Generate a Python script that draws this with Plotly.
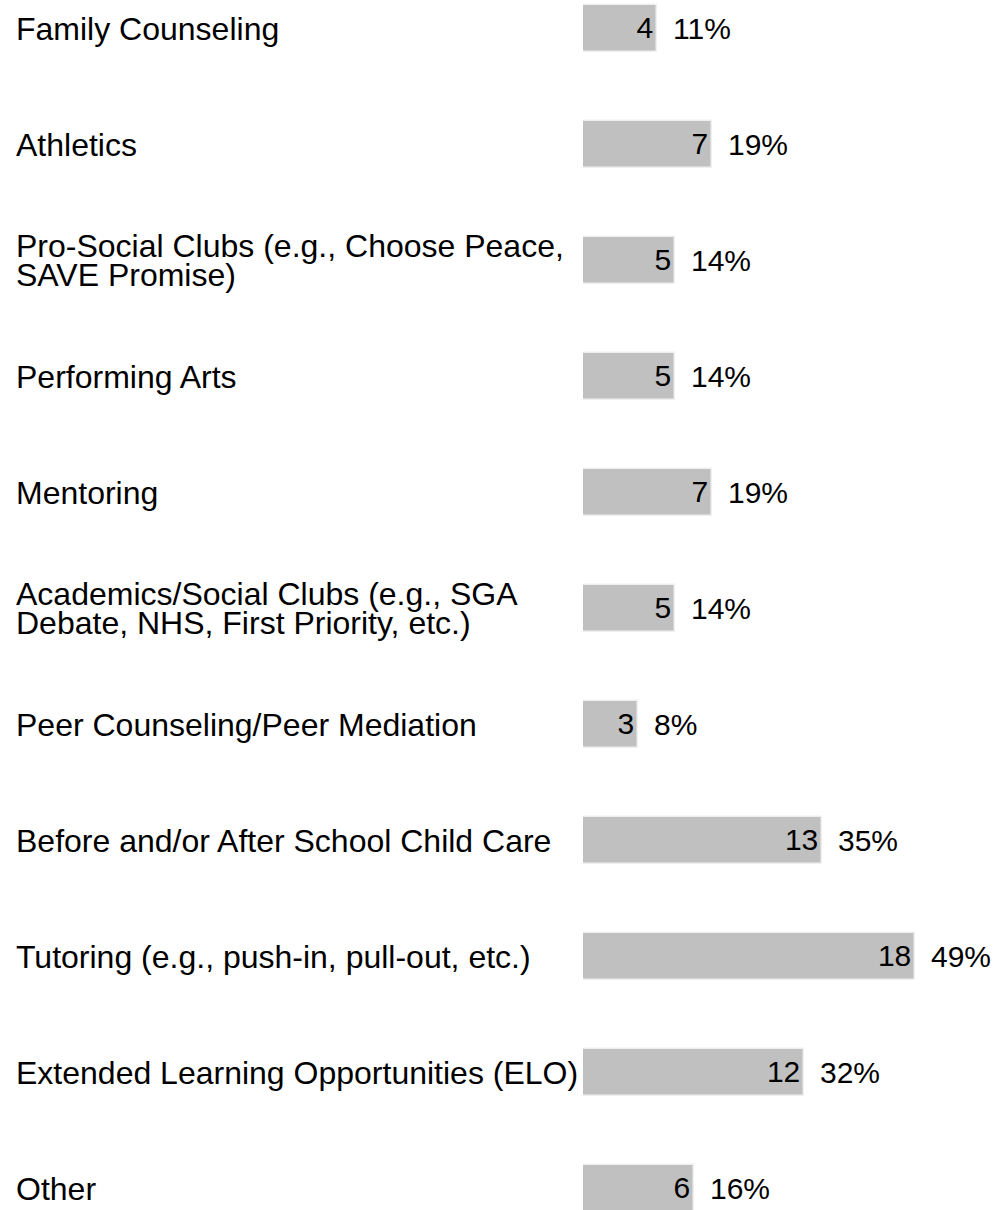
import plotly.graph_objects as go

categories = [
    "Family Counseling",
    "Athletics",
    "Pro-Social Clubs (e.g., Choose Peace,\nSAVE Promise)",
    "Performing Arts",
    "Mentoring",
    "Academics/Social Clubs (e.g., SGA\nDebate, NHS, First Priority, etc.)",
    "Peer Counseling/Peer Mediation",
    "Before and/or After School Child Care",
    "Tutoring (e.g., push-in, pull-out, etc.)",
    "Extended Learning Opportunities (ELO)",
    "Other",
]
counts = [4, 7, 5, 5, 7, 5, 3, 13, 18, 12, 6]
percents = ["11%", "19%", "14%", "14%", "19%", "14%", "8%", "35%", "49%", "32%", "16%"]

FONT = "Liberation Sans, Arial, sans-serif"
W, H = 996, 1210
ML = 583
ROW = 116.0
FIRST_CENTER = 28.5

fig = go.Figure()
fig.add_trace(go.Bar(
    x=counts,
    y=categories,
    orientation="h",
    width=0.405,
    marker=dict(color="#c0c0c0", line=dict(color="#efefef", width=1.5)),
    text=[str(c) for c in counts],
    textposition="inside",
    insidetextanchor="end",
    insidetextfont=dict(family=FONT, size=30, color="#000000"),
    constraintext="none",
    hoverinfo="skip",
))

annotations = []
for cat, c, pct in zip(categories, counts, percents):
    annotations.append(dict(
        x=c, y=cat, xref="x", yref="y", text=pct, showarrow=False,
        xanchor="left", yanchor="middle", xshift=14,
        font=dict(family=FONT, size=30, color="#000000"),
    ))
    lines = cat.split("\n")
    n = len(lines)
    pitch = 29
    for i, ln in enumerate(lines):
        off = ((n - 1) / 2 - i) * pitch
        annotations.append(dict(
            x=(14 - ML) / (W - ML), y=cat, xref="paper", yref="y", text=ln,
            showarrow=False, xanchor="left", yanchor="middle", yshift=off,
            font=dict(family=FONT, size=32, color="#000000"),
        ))

y_top = -FIRST_CENTER / ROW
y_bot = y_top + H / ROW

fig.update_layout(
    width=W, height=H,
    margin=dict(l=ML, r=0, t=0, b=0, pad=0),
    paper_bgcolor="white", plot_bgcolor="white",
    showlegend=False,
    bargap=0,
    xaxis=dict(range=[0, (W - ML) / 18.42], visible=False, fixedrange=True),
    yaxis=dict(type="category", categoryorder="array", categoryarray=categories,
               range=[y_bot, y_top], visible=False, fixedrange=True),
    annotations=annotations,
    uniformtext=dict(mode=False),
)

fig.write_html("out.html", config={"displayModeBar": False},
               post_script="document.body.style.margin='0';")
